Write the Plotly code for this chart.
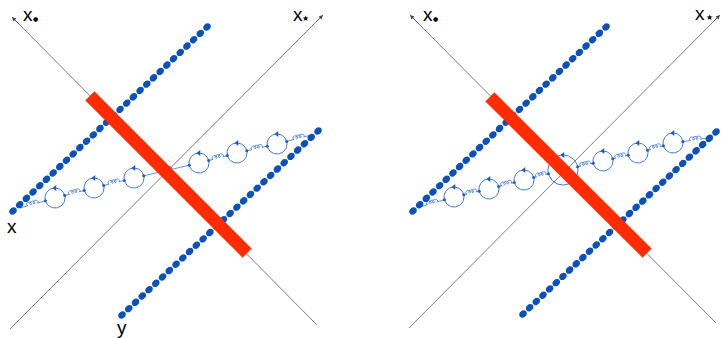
import numpy as np
import plotly.graph_objects as go

# ---------------- data (pixel-space geometry of the diagram) ----------------
# light-cone axes: x_bullet axis (arrow tip, tail) and x_star axis (arrow tip, tail), left & right panel
XDOT_TIP_X = [12, 410]
XDOT_TIP_Y = [17, 15]
XDOT_END_X = [317, 716]
XDOT_END_Y = [325, 323]
XSTAR_TIP_X = [323, 720]
XSTAR_TIP_Y = [15, 15]
XSTAR_END_X = [10, 409]
XSTAR_END_Y = [329, 328]

# dotted (Wilson) lines: start/end, per panel
UPPER_START_X = [13, 413]
UPPER_START_Y = [211, 211]
UPPER_END_X = [207, 606]
UPPER_END_Y = [27, 27]
LOWER_START_X = [122, 523]
LOWER_START_Y = [315, 314]
LOWER_END_X = [318, 716]
LOWER_END_Y = [131, 132]
DOTS_PER_LINE = [30, 30]

# red shock wave bar
BAR_START_X = [90, 490]
BAR_START_Y = [96, 97]
BAR_END_X = [247, 647]
BAR_END_Y = [253, 253]

# gluon chain with quark loops
CHAIN_START_X = [20, 420]
CHAIN_START_Y = [208, 207]
CHAIN_END_X = [311, 708]
CHAIN_END_Y = [135, 138]
LOOP_X_LEFT = [55, 94, 134, 199, 237, 277]
LOOP_Y_LEFT = [198, 188, 178, 163, 153, 144]
LOOP_R_LEFT = [10, 10, 10, 10, 10, 10]
LOOP_X_RIGHT = [454, 489, 524, 563, 603, 638, 673]
LOOP_Y_RIGHT = [197, 189, 180, 170, 161, 153, 143]
LOOP_R_RIGHT = [10, 10, 10, 15, 10, 10, 10]

# labels
LABEL_TEXT = ["x", "x", "x", "x", "x", "y"]
LABEL_X = [28, 298, 428, 700, 12, 122]
LABEL_Y = [14, 14, 14, 13, 226, 327]
SUB_TEXT = ["●", "★", "●", "★"]
SUB_SIZE = [6, 8, 6, 8]
SUB_X = [35, 305, 435, 709]
SUB_Y = [18, 18, 18, 17]

W, H = 722, 338
DOT_BLUE = "#0b51b9"
LINE_BLUE = "#3c78d6"
RED = "#ff2c00"
AXIS_COL = "#444444"

fig = go.Figure()


def unit(v):
    v = np.asarray(v, float)
    return v / np.hypot(*v)


# axis lines (as traces, beneath the red bar) with arrowheads at tips
for i in range(2):
    for tx, ty, ex, ey in [(XDOT_TIP_X[i], XDOT_TIP_Y[i], XDOT_END_X[i], XDOT_END_Y[i]),
                           (XSTAR_TIP_X[i], XSTAR_TIP_Y[i], XSTAR_END_X[i], XSTAR_END_Y[i])]:
        fig.add_trace(go.Scatter(x=[ex, tx], y=[ey, ty], mode="lines",
                                 line=dict(color=AXIS_COL, width=0.7),
                                 hoverinfo="skip", showlegend=False))
        d = unit([tx - ex, ty - ey])
        fig.add_annotation(x=tx, y=ty, ax=tx - 12 * d[0], ay=ty - 12 * d[1], xref="x", yref="y",
                           axref="x", ayref="y", text="", showarrow=True, arrowhead=2,
                           arrowsize=1.2, arrowwidth=0.7, arrowcolor=AXIS_COL,
                           standoff=0, startstandoff=0)


def chain_geometry(cx, cy, cr, start, end):
    nodes = list(zip(cx, cy, cr))
    xs, ys = [], []
    vx, vy = [], []
    anchors = [("pt", start)] + [("c", n) for n in nodes] + [("pt", end)]
    for k in range(len(anchors) - 1):
        ka, a = anchors[k]
        kb, b = anchors[k + 1]
        ca = np.array(a[:2], float)
        cb = np.array(b[:2], float)
        d = unit(cb - ca)
        pa = ca + (d * a[2] if ka == "c" else 0)
        pb = cb - (d * b[2] if kb == "c" else 0)
        if ka == "c":
            vx.append(pa[0]); vy.append(pa[1])
        if kb == "c":
            vx.append(pb[0]); vy.append(pb[1])
        L = np.hypot(*(pb - pa))
        coil_len = min(10.0, 0.6 * L)
        s0 = (L - coil_len) / 2
        perp = np.array([d[1], -d[0]])
        u = np.linspace(0, 6 * np.pi, 150)
        c = coil_len / (6 * np.pi)
        r = 1.7
        along = s0 + c * u - r * np.sin(u)
        off = r * (1 - np.cos(u))
        pts = [pa] + [pa + d * s + perp * o for s, o in zip(along, off)] + [pb]
        xs += [p[0] for p in pts] + [None]
        ys += [p[1] for p in pts] + [None]
    return xs, ys, vx, vy


loops = [(LOOP_X_LEFT, LOOP_Y_LEFT, LOOP_R_LEFT), (LOOP_X_RIGHT, LOOP_Y_RIGHT, LOOP_R_RIGHT)]
for i in range(2):
    cx, cy, cr = loops[i]
    xs, ys, vx, vy = chain_geometry(cx, cy, cr, (CHAIN_START_X[i], CHAIN_START_Y[i], 0),
                                    (CHAIN_END_X[i], CHAIN_END_Y[i], 0))
    fig.add_trace(go.Scatter(x=xs, y=ys, mode="lines", line=dict(color=LINE_BLUE, width=0.8),
                             hoverinfo="skip", showlegend=False))
    t = np.linspace(0, 2 * np.pi, 80)
    lx, ly = [], []
    for x0, y0, rr in zip(cx, cy, cr):
        lx += list(x0 + rr * np.cos(t)) + [None]
        ly += list(y0 + rr * np.sin(t)) + [None]
    fig.add_trace(go.Scatter(x=lx, y=ly, mode="lines", line=dict(color=LINE_BLUE, width=1),
                             hoverinfo="skip", showlegend=False))
    fig.add_trace(go.Scatter(x=list(cx), y=[y0 - rr for y0, rr in zip(cy, cr)], mode="markers",
                             marker=dict(symbol="triangle-left", size=5, color="#1d5cc4"),
                             hoverinfo="skip", showlegend=False))
    fig.add_trace(go.Scatter(x=vx, y=vy, mode="markers",
                             marker=dict(symbol="circle", size=3, color="#1d5cc4"),
                             hoverinfo="skip", showlegend=False))

# dotted Wilson lines (each dot drawn as two overlapping discs -> slightly elongated)
for i in range(2):
    for sx, sy, ex, ey in [(UPPER_START_X[i], UPPER_START_Y[i], UPPER_END_X[i], UPPER_END_Y[i]),
                           (LOWER_START_X[i], LOWER_START_Y[i], LOWER_END_X[i], LOWER_END_Y[i])]:
        n = DOTS_PER_LINE[i]
        d = unit([ex - sx, ey - sy])
        px = np.linspace(sx, ex, n)
        py = np.linspace(sy, ey, n)
        for sgn in (-1, 1):
            fig.add_trace(go.Scatter(x=px + sgn * 0.9 * d[0], y=py + sgn * 0.9 * d[1], mode="markers",
                                     marker=dict(symbol="circle", size=6.2, color=DOT_BLUE,
                                                 line=dict(width=0)),
                                     hoverinfo="skip", showlegend=False))

# red bars
for i in range(2):
    a = np.array([BAR_START_X[i], BAR_START_Y[i]], float)
    b = np.array([BAR_END_X[i], BAR_END_Y[i]], float)
    d = unit(b - a)
    p = np.array([d[1], -d[0]]) * 6.2
    corners = [a + p, b + p, b - p, a - p, a + p]
    fig.add_trace(go.Scatter(x=[c[0] for c in corners], y=[c[1] for c in corners], mode="lines",
                             fill="toself", fillcolor=RED, line=dict(color=RED, width=0.5),
                             hoverinfo="skip", showlegend=False))

# labels
for t_, x_, y_ in zip(LABEL_TEXT, LABEL_X, LABEL_Y):
    fig.add_annotation(x=x_, y=y_, text=t_, showarrow=False, xref="x", yref="y",
                       font=dict(family="Liberation Sans, Arial", size=19, color="black"))
for t_, s_, x_, y_ in zip(SUB_TEXT, SUB_SIZE, SUB_X, SUB_Y):
    fig.add_annotation(x=x_, y=y_, text=t_, showarrow=False, xref="x", yref="y",
                       font=dict(family="DejaVu Sans", size=s_, color="black"))

fig.update_layout(width=W, height=H, margin=dict(l=0, r=0, t=0, b=0),
                  paper_bgcolor="white", plot_bgcolor="white",
                  xaxis=dict(range=[0, W], visible=False, fixedrange=True),
                  yaxis=dict(range=[H, 0], visible=False, fixedrange=True))
fig.write_html("out.html", config={"displayModeBar": False},
               post_script="document.body.style.margin='0';document.body.style.overflow='hidden';")
